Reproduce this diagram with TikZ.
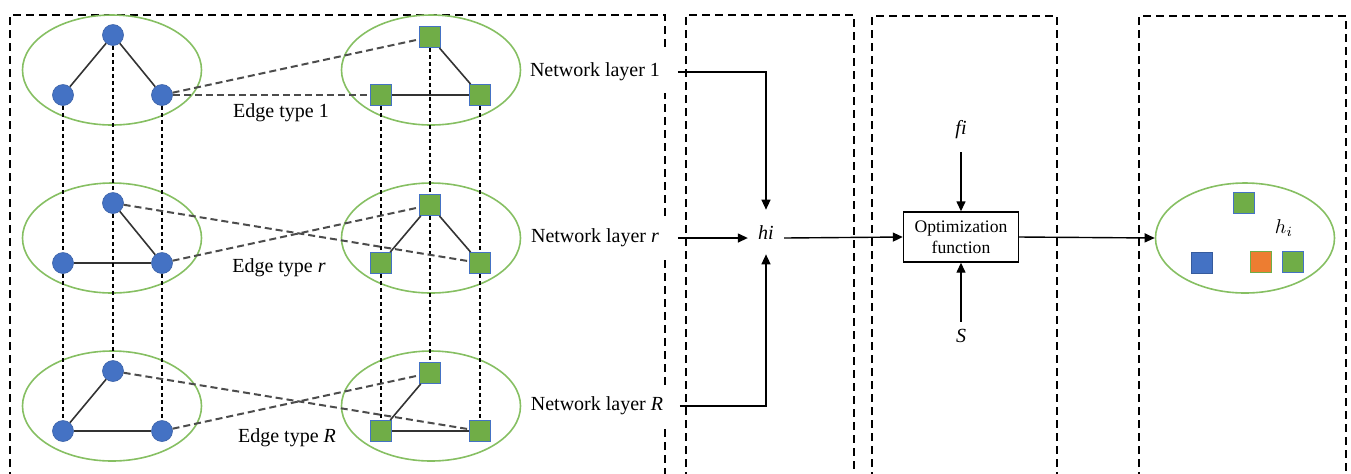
\documentclass[tikz,border=0pt]{standalone}
\usepackage{fontspec}
\setmainfont{Liberation Serif}
\usetikzlibrary{shapes.geometric,positioning,arrows.meta}

\definecolor{nodeblue}{HTML}{4472C4}
\definecolor{nodegreen}{HTML}{70AD47}
\definecolor{nodeorange}{HTML}{ED7D31}
\definecolor{ringgreen}{HTML}{86BF62}

\begin{document}
\begin{tikzpicture}
    [x=0.5pt,y=-0.5pt,
     circ/.style={circle,fill=nodeblue,draw=nodeblue!85!black,line width=0.3pt,minimum size=10.5pt,inner sep=0pt},
     sq/.style={rectangle,fill=nodegreen,draw=nodeblue,line width=0.6pt,minimum size=10.3pt,inner sep=0pt},
     ring/.style={ellipse,draw=ringgreen,line width=0.8pt,minimum width=89.5pt,minimum height=55pt,inner sep=0pt},
     frame/.style={line width=0.8pt,dash pattern=on 4pt off 2.5pt},
     rail/.style={line width=0.6pt,dash pattern=on 2pt off 1.5pt},
     link/.style={draw=black!70,line width=1pt,dash pattern=on 3.5pt off 2pt},
     edge/.style={draw=black!80,line width=0.8pt},
     netlab/.style={fill=white,minimum width=72.5pt,minimum height=21pt,inner sep=1pt},
     flow/.style={-{Triangle[length=5pt,width=4.5pt]},line width=0.7pt}]
    \clip (0,0) rectangle (1351,473);

    % dashed frames
    \draw[frame] (10,480) |- (665,15) -- (665,480);
    \draw[frame] (686,480) |- (854,15) -- (854,480);
    \draw[frame] (872,480) |- (1057,16) -- (1057,480);
    \draw[frame] (1139,480) |- (1346,16) -- (1346,480);

    % three network layers
    \foreach \l/\cy in {1/70,2/238,3/406} {
      \node[ring] (gl\l) at (112,\cy) {};
      \node[ring] (gr\l) at (431,\cy) {};
      \node[circ] (ct\l) at (113,\cy-35) {};
      \node[circ] (cl\l) at (63,\cy+25) {};
      \node[circ] (cr\l) at (162,\cy+25) {};
      \node[sq] (st\l) at (430,\cy-33) {};
      \node[sq] (sl\l) at (381,\cy+25) {};
      \node[sq] (sr\l) at (480,\cy+25) {};
    }
    \foreach \a/\b in {ct1/cl1,ct1/cr1,ct2/cr2,cl2/cr2,ct3/cl3,cl3/cr3,
                       st1/sr1,sl1/sr1,st2/sl2,st2/sr2,st3/sl3,sl3/sr3} {
      \draw[edge] (\a) -- (\b);
    }
    \foreach \n in {ct,cl,cr,st,sl,sr} {
      \draw[rail] (\n1) -- (\n2) -- (\n3);
    }
    \foreach \a/\b in {cr1/st1,cr1/sl1,ct2/sr2,cr2/st2,ct3/sr3,cr3/st3} {
      \draw[link] (\a) -- (\b);
    }

    \node (et1) at (281,113) {Edge type 1};
    \node (et2) at (279,268) {Edge type \textit{r}};
    \node (et3) at (287,438) {Edge type \textit{R}};

    \node[netlab] (net1) at (595,72) {Network layer 1};
    \node[netlab] (net2) at (595,238) {Network layer \textit{r}};
    \node[netlab] (net3) at (597,406) {Network layer \textit{R}};

    % aggregation
    \node[text depth=5pt,inner xsep=5pt,inner ysep=2pt] (hi) at (766,238) {\textit{hi}};
    \draw[flow,shorten <=5pt,shorten >=6pt] (net1.east) -| (hi.north);
    \draw[flow,shorten <=5pt] (net2.east) -- (hi.west);
    \draw[flow,shorten <=5pt] (net3.east) -| (hi.south);

    % optimization
    \node[draw,line width=0.7pt,minimum width=57.5pt,minimum height=25pt,
          align=center,font=\fontsize{8.8}{10.5}\selectfont] (opt) at (961,237) {Optimization\\function};
    \node (fi) [above=32.5pt of opt] {\textit{fi}};
    \node (s) [below=29.5pt of opt] {\textit{S}};
    \draw[flow] (hi.east) -- (opt.west);
    \draw[flow,shorten <=3pt] (fi) -- (opt);
    \draw[flow] (s) -- (opt);

    % output embedding
    \node[ring] (outring) at (1245,238) {};
    \node[sq] (o1) at (1244,203) {};
    \node[sq,fill=nodeblue,draw=nodeblue!80!black] (o2) at (1202,263) {};
    \node[sq,fill=nodeorange,draw=nodegreen] (o3) at (1261,262) {};
    \node[sq] (o4) at (1293,262) {};
    \node (hlab) at (1284,228) {$h_i$};
    \draw[flow] (opt.east) -- (outring.west);
\end{tikzpicture}
\end{document}
